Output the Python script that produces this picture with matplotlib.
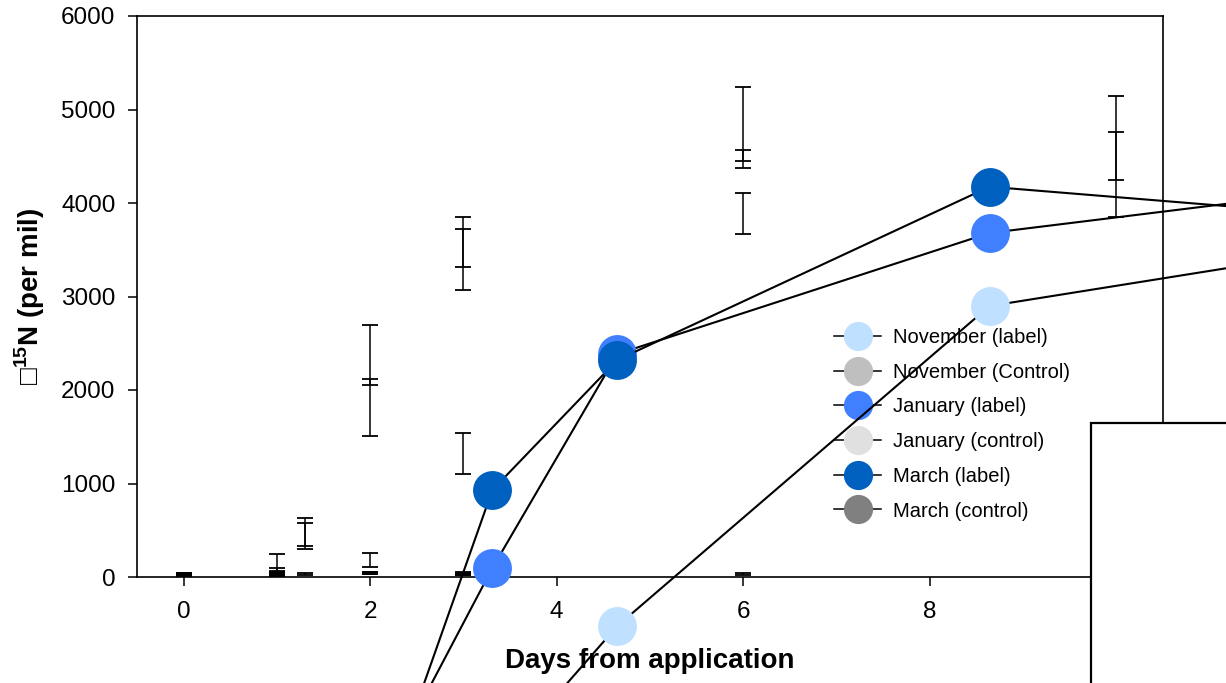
import numpy as np
import matplotlib
matplotlib.use("Agg")
import matplotlib.pyplot as plt
from matplotlib.lines import Line2D
from matplotlib.patches import Rectangle

plt.rcParams['font.family'] = ['Liberation Sans', 'DejaVu Sans']
plt.rcParams['mathtext.fontset'] = 'custom'
plt.rcParams['mathtext.rm'] = 'Liberation Sans'
plt.rcParams['mathtext.bf'] = 'Liberation Sans:bold'

# error bars (drawn at the sampling days, no markers)
err_days = [0, 1, 1.3, 2, 3, 6, 10]
nov_label_mean = [25, 150, 482, 2374, 3583, 4845, 4695]
nov_label_err = [15, 96, 150, 321, 267, 396, 449]
jan_label_mean = [25, 70, 438, 1813, 3396, 4470, 4305]
jan_label_err = [15, 30, 138, 305, 326, 97, 455]
mar_label_mean = [25, 40, 32, 182, 1321, 3887, np.nan]
mar_label_err = [15, 20, 6, 75, 219, 220, np.nan]
nov_ctrl_mean = [30, 30, np.nan, 42, 35, 30, np.nan]
nov_ctrl_err = [12, 15, np.nan, 10, 12, 8, np.nan]
jan_ctrl_mean = [25, 25, np.nan, 40, 30, np.nan, np.nan]
jan_ctrl_err = [12, 12, np.nan, 8, 10, np.nan, np.nan]
mar_ctrl_mean = [20, 35, np.nan, 45, 40, np.nan, np.nan]
mar_ctrl_err = [10, 15, np.nan, 8, 10, np.nan, np.nan]

# plotted symbols and connecting lines (as they appear, offset from the bars)
nov_days = [3.31, 4.65, 8.64, 12]
nov_vals = [-2048, -524, 2898, 3433]
jan_days = [2, 3.31, 4.65, 8.64, 12]
jan_vals = [-2385, 96, 2385, 3679, 4092]
mar_days = [2, 3.31, 4.65, 8.64, 12]
mar_vals = [-2770, 930, 2321, 4174, 3900]

legend_names = ['November (label)', 'November (Control)', 'January (label)',
                'January (control)', 'March (label)', 'March (control)']
legend_colors = ['#c0e0ff', '#bfbfbf', '#4080ff', '#e0e0e0', '#0060c0', '#808080']

fig = plt.figure(figsize=(12.26, 6.83), dpi=100)
ax = fig.add_axes([137 / 1226, 1 - 577 / 683, (1163 - 137) / 1226, (577 - 16) / 683])

err_sets = [(nov_label_mean, nov_label_err), (nov_ctrl_mean, nov_ctrl_err),
            (jan_label_mean, jan_label_err), (jan_ctrl_mean, jan_ctrl_err),
            (mar_label_mean, mar_label_err), (mar_ctrl_mean, mar_ctrl_err)]
for mean, err in err_sets:
    ax.errorbar(err_days, mean, yerr=err, fmt='none', ecolor='black',
                elinewidth=1.1, capsize=5.8, capthick=1.3, zorder=3)

for days, vals, col in [(nov_days, nov_vals, '#c0e0ff'),
                        (jan_days, jan_vals, '#4080ff'),
                        (mar_days, mar_vals, '#0060c0')]:
    ax.plot(days, vals, color='black', lw=1.5, marker='o', markersize=28,
            markerfacecolor=col, markeredgewidth=0, clip_on=False, zorder=6)

ax.set_xlim(-0.5, 10.5)
ax.set_ylim(0, 6000)
ax.set_xticks([0, 2, 4, 6, 8, 10])
ax.set_yticks([0, 1000, 2000, 3000, 4000, 5000, 6000])
ax.tick_params(axis='both', labelsize=17.5, direction='out', length=6.5, width=1.1)
ax.tick_params(axis='x', pad=11)
ax.tick_params(axis='y', pad=9)
for s in ax.spines.values():
    s.set_linewidth(1.2)

handles = [Line2D([], [], color='black', lw=1.1, marker='o', markersize=21,
                  markerfacecolor=c, markeredgewidth=0) for c in legend_colors]
leg = ax.legend(handles, legend_names, loc='upper left', frameon=False,
                bbox_to_anchor=(834 / 1226, 1 - 328 / 683), bbox_transform=fig.transFigure,
                fontsize=14.5, handlelength=2.35, handletextpad=0.6,
                labelspacing=0.78, borderpad=0, borderaxespad=0)
leg.set_zorder(2)

fig.text(650 / 1226, 1 - 661 / 683, 'Days from application', fontsize=20,
         fontweight='bold', ha='center', va='center')
fig.text(30 / 1226, 1 - 296 / 683, '\u25a1$^{\\mathbf{15}}$N (per mil)', fontsize=20,
         fontweight='bold', rotation=90, ha='center', va='center')

# blank panel overlapping the lower right corner
fig.patches.append(Rectangle((1091 / 1226, -0.1), 0.3, 0.1 + (683 - 423) / 683,
                             transform=fig.transFigure, facecolor='white',
                             edgecolor='black', lw=1.6, zorder=10))

fig.savefig('out.png', dpi=100)
